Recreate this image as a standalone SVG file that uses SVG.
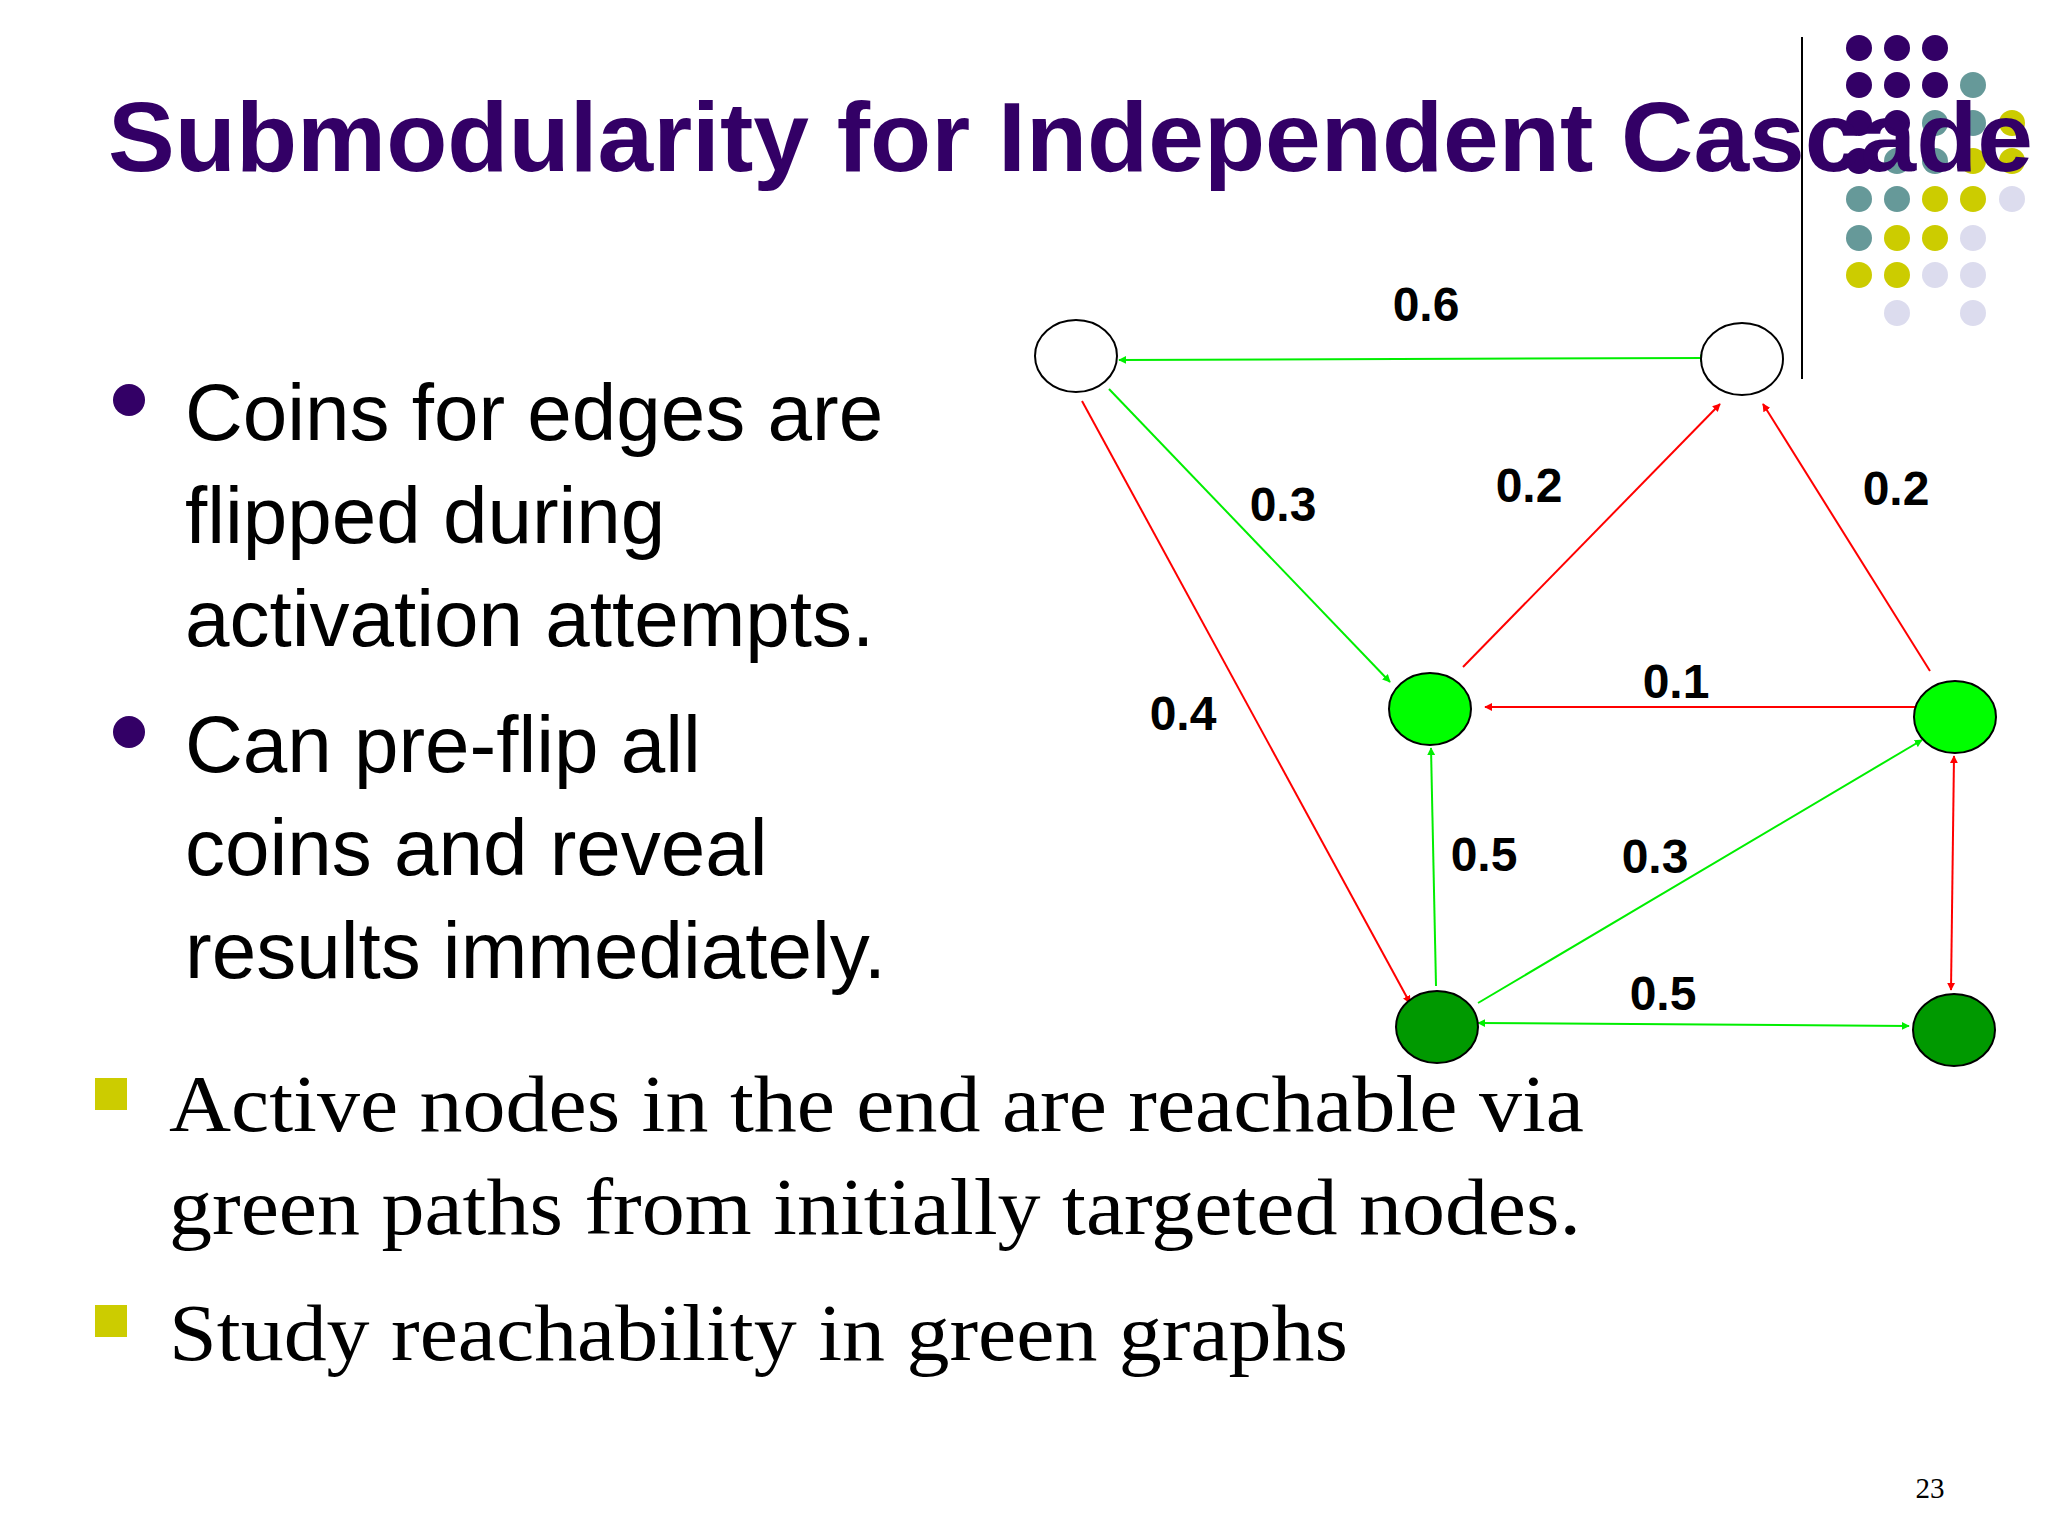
<svg xmlns="http://www.w3.org/2000/svg" width="2048" height="1536" viewBox="0 0 2048 1536">
<style>
.t{font-family:"Liberation Sans",Arial,sans-serif;font-weight:bold;fill:#330066}
.b{font-family:"Liberation Sans",Arial,sans-serif;font-size:80px;fill:#000}
.s{font-family:"Liberation Serif","Times New Roman",serif;font-size:80px;fill:#000}
.l{font-family:"Liberation Sans",Arial,sans-serif;font-weight:bold;font-size:48px;fill:#000;text-anchor:middle}
.g{stroke:#00ee00;stroke-width:2;fill:none}
.r{stroke:#ff0000;stroke-width:2;fill:none}
.n{stroke:#000;stroke-width:2}
.P{fill:#330066}.T{fill:#669999}.Y{fill:#cccc00}.L{fill:#dcdcee}
</style>
<defs>
<marker id="ag" viewBox="0 0 10 10" refX="9" refY="5" markerWidth="8" markerHeight="8" orient="auto-start-reverse" markerUnits="userSpaceOnUse"><path d="M0,0L10,5L0,10z" fill="#00ee00"/></marker>
<marker id="ar" viewBox="0 0 10 10" refX="9" refY="5" markerWidth="8" markerHeight="8" orient="auto-start-reverse" markerUnits="userSpaceOnUse"><path d="M0,0L10,5L0,10z" fill="#ff0000"/></marker>
</defs>
<rect width="2048" height="1536" fill="#fff"/>
<g id="dots">
<circle class="P" cx="1859" cy="48" r="13"/><circle class="P" cx="1897" cy="48" r="13"/><circle class="P" cx="1935" cy="48" r="13"/>
<circle class="P" cx="1859" cy="85" r="13"/><circle class="P" cx="1897" cy="85" r="13"/><circle class="P" cx="1935" cy="85" r="13"/><circle class="T" cx="1973" cy="85" r="13"/>
<circle class="P" cx="1859" cy="123" r="13"/><circle class="P" cx="1897" cy="123" r="13"/><circle class="T" cx="1935" cy="123" r="13"/><circle class="T" cx="1973" cy="123" r="13"/><circle class="Y" cx="2012" cy="123" r="13"/>
<circle class="P" cx="1859" cy="161" r="13"/><circle class="T" cx="1897" cy="161" r="13"/><circle class="T" cx="1935" cy="161" r="13"/><circle class="Y" cx="1973" cy="161" r="13"/><circle class="Y" cx="2012" cy="161" r="13"/>
<circle class="T" cx="1859" cy="199" r="13"/><circle class="T" cx="1897" cy="199" r="13"/><circle class="Y" cx="1935" cy="199" r="13"/><circle class="Y" cx="1973" cy="199" r="13"/><circle class="L" cx="2012" cy="199" r="13"/>
<circle class="T" cx="1859" cy="238" r="13"/><circle class="Y" cx="1897" cy="238" r="13"/><circle class="Y" cx="1935" cy="238" r="13"/><circle class="L" cx="1973" cy="238" r="13"/>
<circle class="Y" cx="1859" cy="275" r="13"/><circle class="Y" cx="1897" cy="275" r="13"/><circle class="L" cx="1935" cy="275" r="13"/><circle class="L" cx="1973" cy="275" r="13"/>
<circle class="L" cx="1897" cy="313" r="13"/><circle class="L" cx="1973" cy="313" r="13"/>
</g>
<line x1="1802" y1="37" x2="1802" y2="379" stroke="#000" stroke-width="2"/>
<text class="t" x="108" y="171" font-size="98" textLength="1925" lengthAdjust="spacingAndGlyphs">Submodularity for Independent Cascade</text>
<g id="bullets">
<circle cx="129" cy="400" r="16" fill="#330066"/><circle cx="129" cy="732" r="16" fill="#330066"/>
<text class="b" x="185" y="440">Coins for edges are</text>
<text class="b" x="185" y="543">flipped during</text>
<text class="b" x="185" y="646">activation attempts.</text>
<text class="b" x="185" y="772">Can pre-flip all</text>
<text class="b" x="185" y="875">coins and reveal</text>
<text class="b" x="185" y="978">results immediately.</text>
<rect x="95" y="1078" width="32" height="32" fill="#cccc00"/><rect x="95" y="1305" width="32" height="32" fill="#cccc00"/>
<text class="s" x="169" y="1131" textLength="1415" lengthAdjust="spacingAndGlyphs">Active nodes in the end are reachable via</text>
<text class="s" x="169" y="1234" textLength="1412" lengthAdjust="spacingAndGlyphs">green paths from initially targeted nodes.</text>
<text class="s" x="169" y="1360" textLength="1179" lengthAdjust="spacingAndGlyphs">Study reachability in green graphs</text>
<text x="1930" y="1498" font-family="Liberation Serif,serif" font-size="29" text-anchor="middle">23</text>
</g>
<g id="connectors">
<line class="g" x1="1119" y1="360" x2="1707" y2="358" marker-start="url(#ag)" marker-end="url(#ag)"/>
<line class="g" x1="1109" y1="389" x2="1390" y2="682" marker-end="url(#ag)"/>
<line class="r" x1="1082" y1="401" x2="1410" y2="1003" marker-end="url(#ar)"/>
<line class="r" x1="1463" y1="667" x2="1720" y2="404" marker-end="url(#ar)"/>
<line class="r" x1="1930" y1="671" x2="1763" y2="404" marker-end="url(#ar)"/>
<line class="r" x1="1915" y1="707" x2="1485" y2="707" marker-end="url(#ar)"/>
<line class="g" x1="1436" y1="986" x2="1431" y2="748" marker-end="url(#ag)"/>
<line class="g" x1="1478" y1="1003" x2="1922" y2="740" marker-end="url(#ag)"/>
<line class="g" x1="1478" y1="1023" x2="1909" y2="1026" marker-start="url(#ag)" marker-end="url(#ag)"/>
<line class="r" x1="1954" y1="756" x2="1951" y2="990" marker-start="url(#ar)" marker-end="url(#ar)"/>
<text class="l" x="1426" y="321">0.6</text>
<text class="l" x="1283" y="521">0.3</text>
<text class="l" x="1529" y="502">0.2</text>
<text class="l" x="1896" y="505">0.2</text>
<text class="l" x="1676" y="698">0.1</text>
<text class="l" x="1183" y="730">0.4</text>
<text class="l" x="1484" y="871">0.5</text>
<text class="l" x="1655" y="873">0.3</text>
<text class="l" x="1663" y="1010">0.5</text>
</g>
<g id="nA"><ellipse class="n" cx="1076" cy="356" rx="41" ry="36" fill="#fff"/></g>
<g id="nB"><ellipse class="n" cx="1742" cy="359" rx="41" ry="36" fill="#fff"/></g>
<g id="nC"><ellipse class="n" cx="1430" cy="709" rx="41" ry="36" fill="#00ff00"/></g>
<g id="nD"><ellipse class="n" cx="1955" cy="717" rx="41" ry="36" fill="#00ff00"/></g>
<g id="nE"><ellipse class="n" cx="1437" cy="1027" rx="41" ry="36" fill="#009900"/></g>
<g id="nF"><ellipse class="n" cx="1954" cy="1030" rx="41" ry="36" fill="#009900"/></g>
</svg>
